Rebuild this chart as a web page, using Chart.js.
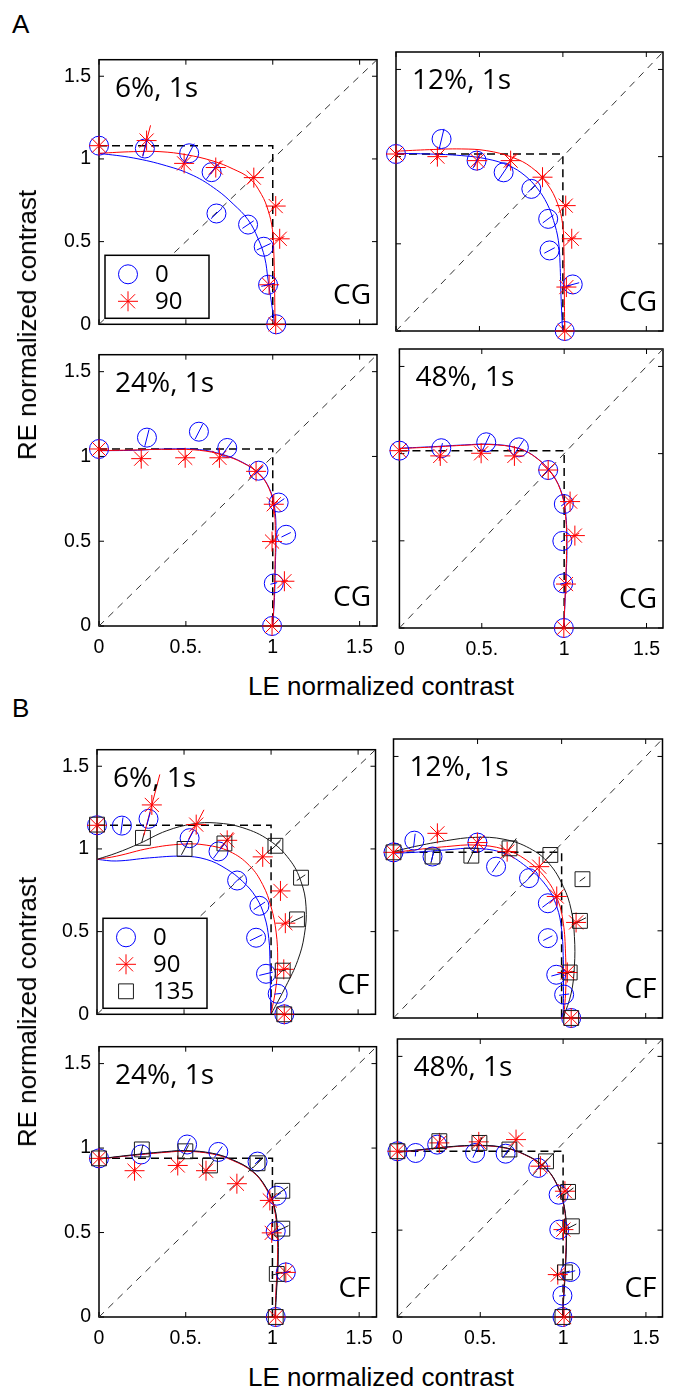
<!DOCTYPE html>
<html>
<head>
<meta charset="utf-8">
<script src="https://cdn.jsdelivr.net/npm/chart.js@4.4.1/dist/chart.umd.min.js"></script>
<style>
  body { margin: 0; background: #fff; width: 674px; height: 1391px; position: relative; overflow: hidden; }
  canvas { position: absolute; }
  .lbl { position: absolute; color: #000; white-space: nowrap; line-height: 1; font-family: "Liberation Sans", Arial, sans-serif; }
</style>
</head>
<body>
<script>
// axis ticks
const tickValues = [0, 0.5, 1, 1.5];
const xTickLabels = ['0', '0.5.', '1', '1.5'];
const yTickLabels = ['0', '0.5', '1', '1.5'];
const diagonal = [0, 1.6];

// ---- A, CG, 6% ----  points are [LE, RE]
const A1_0 = [[0,1.08],[0.264,1.063],[0.519,1.034],[0.648,0.92],[0.676,0.67],[0.858,0.603],[0.948,0.469],[0.973,0.239],[1.02,0]];
const A1_err0 = [0,0.05,0.065,0.055,0.045,0.04,0.045,0.04,0];
const A1_90 = [[0,1.08],[0.274,1.111],[0.49,0.973],[0.672,0.948],[0.891,0.887],[1.017,0.715],[1.04,0.517],[0.979,0.239],[1.017,0]];
const A1_err90 = [0,0.095,0.04,0.05,0.05,0.03,0.03,0.03,0];
const A1_fit0 = [[0,1.034],[0.197,1.006],[0.389,0.958],[0.542,0.9],[0.676,0.814],[0.772,0.728],[0.858,0.632],[0.916,0.517],[0.954,0.402],[0.973,0.268],[0.992,0.134],[1.011,0]];
const A1_fit90 = [[0,1.034],[0.197,1.044],[0.351,1.044],[0.504,1.025],[0.657,0.987],[0.772,0.939],[0.868,0.881],[0.935,0.785],[0.973,0.69],[0.998,0.575],[1.006,0.441],[1.01,0.268],[1.013,0]];
const A1_box = [1.0, 1.08];

// ---- A, CG, 12% ----
const A2_0 = [[0,1.015],[0.273,1.101],[0.483,0.977],[0.645,0.91],[0.811,0.815],[0.912,0.643],[0.92,0.462],[1.059,0.267],[1.011,0]];
const A2_err0 = [0,0.06,0.05,0.06,0.03,0.04,0.035,0.04,0];
const A2_90 = [[0,1.015],[0.248,1.0],[0.487,0.977],[0.687,0.977],[0.878,0.882],[1.017,0.719],[1.053,0.529],[1.021,0.252],[1.011,0]];
const A2_err90 = [0,0.02,0.04,0.05,0.03,0.03,0.03,0.03,0];
const A2_fit0 = [[0,1.019],[0.2,1.015],[0.391,1.006],[0.544,0.987],[0.677,0.948],[0.773,0.891],[0.849,0.815],[0.906,0.729],[0.944,0.634],[0.973,0.519],[0.983,0.385],[0.989,0.195],[0.998,0]];
const A2_fit90 = [[0,1.031],[0.2,1.04],[0.391,1.044],[0.544,1.034],[0.697,0.996],[0.811,0.939],[0.906,0.844],[0.969,0.729],[0.998,0.615],[1.006,0.481],[1.008,0.29],[1.011,0]];
const A2_box = [1.0, 1.015];

// ---- A, CG, 24% ----
const A3_0 = [[0,1.044],[0.276,1.111],[0.575,1.146],[0.738,1.05],[0.918,0.916],[1.034,0.728],[1.077,0.538],[1.006,0.251],[0.996,0]];
const A3_err0 = [0,0.05,0.05,0.05,0.04,0.04,0.03,0.02,0];
const A3_90 = [[0,1.044],[0.243,0.987],[0.496,0.992],[0.693,0.992],[0.904,0.912],[1.006,0.718],[0.996,0.498],[1.067,0.264],[0.996,0]];
const A3_err90 = [0,0.02,0.02,0.03,0.05,0.03,0.02,0.02,0];
const A3_fit0 = [[0,1.034],[0.195,1.036],[0.387,1.044],[0.579,1.04],[0.713,1.011],[0.828,0.964],[0.923,0.897],[0.981,0.81],[1.01,0.705],[1.019,0.552],[1.015,0.36],[1.01,0.169],[1.0,0]];
const A3_fit90 = [[0,1.034],[0.195,1.038],[0.387,1.042],[0.579,1.036],[0.713,1.008],[0.828,0.962],[0.923,0.895],[0.979,0.81],[1.006,0.705],[1.015,0.552],[1.013,0.36],[1.008,0.169],[1.0,0]];
const A3_box = [1.0, 1.044];

// ---- A, CG, 48% ----
const A4_0 = [[0,1.017],[0.254,1.031],[0.527,1.065],[0.725,1.036],[0.903,0.906],[0.998,0.711],[0.989,0.499],[0.994,0.256],[0.998,0]];
const A4_err0 = [0,0.03,0.05,0.05,0.03,0.02,0.01,0.02,0];
const A4_90 = [[0,1.017],[0.248,0.987],[0.496,1.002],[0.698,0.987],[0.903,0.906],[1.036,0.725],[1.065,0.53],[1.011,0.252],[0.998,0]];
const A4_err90 = [0,0.03,0.03,0.03,0.04,0.03,0.03,0.03,0];
const A4_fit0 = [[0,1.031],[0.206,1.04],[0.397,1.05],[0.55,1.054],[0.721,1.031],[0.836,0.973],[0.931,0.878],[0.989,0.763],[1.011,0.639],[1.017,0.467],[1.011,0.275],[0.998,0]];
const A4_fit90 = [[0,1.029],[0.206,1.038],[0.397,1.048],[0.55,1.052],[0.721,1.03],[0.836,0.972],[0.931,0.877],[0.987,0.763],[1.009,0.639],[1.015,0.467],[1.009,0.275],[0.998,0]];
const A4_box = [1.0, 1.017];

// ---- B, CF, 6% ----
const B1_0 = [[0,1.143],[0.143,1.141],[0.296,1.182],[0.532,1.065],[0.698,0.985],[0.805,0.809],[0.933,0.656],[0.914,0.463],[0.971,0.245],[1.038,0.124],[1.076,0]];
const B1_err0 = [0,0.05,0.04,0.05,0.05,0.03,0.04,0.04,0.04,0.02,0];
const B1_90 = [[0,1.143],[0.315,1.266],[0.57,1.147],[0.748,1.052],[0.952,0.952],[1.054,0.746],[1.082,0.551],[1.073,0.272],[1.076,0]];
const B1_err90 = [0,0.19,0.1,0.06,0.02,0.02,0.03,0.03,0];
const B1_135 = [[0,1.147],[0.264,1.067],[0.503,1.0],[0.732,1.033],[1.025,1.019],[1.172,0.826],[1.149,0.574],[1.067,0.264],[1.076,0]];
const B1_err135 = [0,0.03,0.04,0.04,0.04,0.03,0.04,0.02,0];
const B1_fit0 = [[0,0.937],[0.111,0.927],[0.302,0.946],[0.493,0.956],[0.627,0.937],[0.742,0.88],[0.837,0.803],[0.914,0.707],[0.962,0.593],[0.987,0.459],[0.994,0.306],[0.996,0.172],[1.0,0]];
const B1_fit90 = [[0,0.937],[0.111,0.956],[0.302,1.004],[0.493,1.029],[0.627,1.023],[0.761,0.985],[0.876,0.899],[0.952,0.784],[1.0,0.65],[1.029,0.497],[1.038,0.325],[1.029,0.172],[1.0,0]];
const B1_fit135 = [[0,0.937],[0.111,0.975],[0.245,1.033],[0.398,1.109],[0.551,1.151],[0.685,1.157],[0.838,1.128],[0.99,1.052],[1.105,0.937],[1.172,0.803],[1.201,0.65],[1.191,0.478],[1.153,0.325],[1.086,0.172],[1.0,0]];
const B1_box = [1.0, 1.143];

// ---- B, CF, 12% ----
const B2_0 = [[0,0.95],[0.124,1.017],[0.232,0.926],[0.499,1.006],[0.61,0.868],[0.806,0.802],[0.918,0.658],[0.918,0.458],[0.968,0.248],[1.015,0.134],[1.057,0]];
const B2_err0 = [0,0.04,0.03,0.04,0.04,0.04,0.04,0.03,0.03,0.03,0];
const B2_90 = [[0,0.95],[0.261,1.059],[0.499,1.006],[0.676,0.954],[0.867,0.868],[0.971,0.697],[1.086,0.548],[1.034,0.261],[1.057,0]];
const B2_err90 = [0,0.02,0.03,0.03,0.04,0.03,0.03,0.03,0];
const B2_135 = [[0,0.95],[0.232,0.926],[0.463,0.931],[0.69,0.973],[0.933,0.935],[1.124,0.796],[1.109,0.557],[1.048,0.261],[1.057,0]];
const B2_err135 = [0,0.04,0.05,0.07,0.04,0.02,0.04,0.03,0];
const B2_fit0 = [[0,0.945],[0.124,0.95],[0.314,0.964],[0.486,0.973],[0.657,0.945],[0.79,0.868],[0.905,0.763],[0.971,0.639],[1.0,0.506],[1.01,0.334],[1.011,0.181],[1.01,0]];
const B2_fit90 = [[0,0.948],[0.124,0.964],[0.314,0.983],[0.486,0.992],[0.657,0.968],[0.79,0.906],[0.905,0.802],[0.977,0.677],[1.01,0.544],[1.023,0.372],[1.025,0.181],[1.013,0]];
const B2_fit135 = [[0,0.954],[0.124,0.983],[0.314,1.017],[0.486,1.036],[0.657,1.025],[0.81,0.973],[0.924,0.887],[1.01,0.754],[1.057,0.62],[1.076,0.468],[1.076,0.296],[1.057,0.143],[1.01,0]];
const B2_box = [1.0, 0.95];

// ---- B, CF, 24% ----
const B3_0 = [[0,0.939],[0.243,0.962],[0.508,1.021],[0.688,0.977],[0.914,0.92],[1.025,0.718],[1.019,0.508],[1.077,0.264],[1.019,0]];
const B3_err0 = [0,0.02,0.04,0.04,0.02,0.03,0.03,0.02,0];
const B3_90 = [[0,0.939],[0.205,0.866],[0.454,0.897],[0.617,0.866],[0.795,0.789],[0.985,0.69],[0.996,0.498],[1.077,0.264],[1.019,0]];
const B3_err90 = [0,0.02,0.03,0.03,0.03,0.03,0.03,0.03,0];
const B3_135 = [[0,0.939],[0.247,0.992],[0.498,0.981],[0.64,0.897],[0.914,0.91],[1.057,0.747],[1.057,0.523],[1.025,0.255],[1.019,0]];
const B3_err135 = [0,0.03,0.04,0.04,0.04,0.04,0.04,0.03,0];
const B3_fit0 = [[0,0.935],[0.195,0.958],[0.387,0.977],[0.502,0.983],[0.655,0.967],[0.77,0.929],[0.885,0.862],[0.962,0.766],[1.01,0.651],[1.029,0.498],[1.031,0.326],[1.023,0.172],[1.015,0]];
const B3_fit90 = [[0,0.935],[0.195,0.957],[0.387,0.975],[0.502,0.981],[0.655,0.965],[0.77,0.927],[0.885,0.86],[0.96,0.766],[1.008,0.651],[1.027,0.498],[1.029,0.326],[1.021,0.172],[1.015,0]];
const B3_fit135 = [[0,0.936],[0.195,0.96],[0.387,0.979],[0.502,0.985],[0.655,0.969],[0.77,0.931],[0.885,0.864],[0.964,0.766],[1.012,0.651],[1.031,0.498],[1.033,0.326],[1.025,0.172],[1.015,0]];
const B3_box = [1.0, 0.939];

// ---- B, CF, 48% ----
const B4_0 = [[0,0.954],[0.11,0.944],[0.24,0.992],[0.469,0.944],[0.653,0.94],[0.85,0.858],[0.973,0.704],[0.977,0.503],[1.044,0.259],[0.996,0.123],[0.996,0]];
const B4_err0 = [0,0.02,0.02,0.03,0.03,0.02,0.02,0.02,0.03,0.02,0];
const B4_90 = [[0,0.954],[0.253,1.002],[0.491,1.008],[0.716,1.021],[0.863,0.868],[1.011,0.724],[1.002,0.503],[0.968,0.244],[1.006,0]];
const B4_err90 = [0,0.03,0.03,0.03,0.03,0.03,0.03,0.03,0];
const B4_135 = [[0,0.954],[0.253,1.012],[0.495,1.002],[0.676,0.964],[0.897,0.896],[1.03,0.72],[1.053,0.522],[1.011,0.257],[0.996,0]];
const B4_err135 = [0,0.04,0.04,0.04,0.04,0.04,0.03,0.03,0];
const B4_fit0 = [[0,0.948],[0.158,0.964],[0.31,0.979],[0.501,0.987],[0.653,0.973],[0.768,0.935],[0.882,0.868],[0.958,0.772],[1.006,0.637],[1.019,0.484],[1.015,0.311],[1.006,0.157],[0.996,0]];
const B4_fit90 = [[0,0.948],[0.158,0.963],[0.31,0.978],[0.501,0.986],[0.653,0.972],[0.768,0.934],[0.882,0.867],[0.958,0.771],[1.005,0.637],[1.018,0.484],[1.014,0.311],[1.005,0.157],[0.996,0]];
const B4_fit135 = [[0,0.949],[0.158,0.965],[0.31,0.98],[0.501,0.988],[0.653,0.974],[0.768,0.936],[0.882,0.869],[0.959,0.772],[1.007,0.637],[1.02,0.484],[1.016,0.311],[1.007,0.157],[0.996,0]];
const B4_box = [1.0, 0.954];

// marker / colour per orientation
const BLUE = '#0000ff', RED = '#ff0000', BLK = '#1a1a1a';
function s0(pts, err) { return { name: '0', pts, err, style: 'circle', r: 9.5, color: BLUE }; }
function s90(pts, err) { return { name: '90', pts, err, style: 'star', r: 10, color: RED }; }
function s135(pts, err) { return { name: '135', pts, err, style: 'rect', r: 10.5, color: BLK }; }

const panels = [
  { left: 99, top: 52, w: 279, h: 278, title: '6%, 1s', tag: 'CG', showY: true, showX: false, legend: true,
    series: [s90(A1_90, A1_err90), s0(A1_0, A1_err0)], fits: [[A1_fit90, RED], [A1_fit0, BLUE]], box: A1_box },
  { left: 395, top: 52, w: 278, h: 279, title: '12%, 1s', tag: 'CG', showY: false, showX: false,
    series: [s90(A2_90, A2_err90), s0(A2_0, A2_err0)], fits: [[A2_fit90, RED], [A2_fit0, BLUE]], box: A2_box },
  { left: 99, top: 347, w: 279, h: 279, title: '24%, 1s', tag: 'CG', showY: true, showX: true,
    series: [s90(A3_90, A3_err90), s0(A3_0, A3_err0)], fits: [[A3_fit90, RED], [A3_fit0, BLUE]], box: A3_box },
  { left: 394, top: 349, w: 279, h: 279, title: '48%, 1s', tag: 'CG', showY: false, showX: true,
    series: [s90(A4_90, A4_err90), s0(A4_0, A4_err0)], fits: [[A4_fit90, RED], [A4_fit0, BLUE]], box: A4_box },
  { left: 97, top: 742, w: 280, h: 278, title: '6%, 1s', tag: 'CF', showY: true, showX: false, legend: true,
    series: [s135(B1_135, B1_err135), s90(B1_90, B1_err90), s0(B1_0, B1_err0)], fits: [[B1_fit135, BLK], [B1_fit90, RED], [B1_fit0, BLUE]], box: B1_box },
  { left: 392, top: 739, w: 279, h: 279, title: '12%, 1s', tag: 'CF', showY: false, showX: false,
    series: [s135(B2_135, B2_err135), s90(B2_90, B2_err90), s0(B2_0, B2_err0)], fits: [[B2_fit135, BLK], [B2_fit90, RED], [B2_fit0, BLUE]], box: B2_box },
  { left: 99, top: 1039, w: 279, h: 278, title: '24%, 1s', tag: 'CF', showY: true, showX: true,
    series: [s135(B3_135, B3_err135), s90(B3_90, B3_err90), s0(B3_0, B3_err0)], fits: [[B3_fit135, BLK], [B3_fit90, RED], [B3_fit0, BLUE]], box: B3_box },
  { left: 392, top: 1039, w: 280, h: 278, title: '48%, 1s', tag: 'CF', showY: false, showX: true,
    series: [s135(B4_135, B4_err135), s90(B4_90, B4_err90), s0(B4_0, B4_err0)], fits: [[B4_fit135, BLK], [B4_fit90, RED], [B4_fit0, BLUE]], box: B4_box }
];

function toPts(arr) { return arr.map(p => ({ x: p[0], y: p[1] })); }

function drawMarker(ctx, style, r, color, x, y) {
  ctx.save();
  ctx.strokeStyle = color; ctx.lineWidth = 1;
  ctx.beginPath();
  if (style === 'circle') {
    ctx.arc(x, y, r, 0, Math.PI * 2);
  } else if (style === 'rect') {
    const h = r * Math.SQRT1_2;
    ctx.rect(x - h, y - h, 2 * h, 2 * h);
  } else {
    for (let k = 0; k < 4; k++) {
      const a = k * Math.PI / 4;
      ctx.moveTo(x - r * Math.cos(a), y - r * Math.sin(a));
      ctx.lineTo(x + r * Math.cos(a), y + r * Math.sin(a));
    }
  }
  ctx.stroke();
  ctx.restore();
}

const decor = {
  id: 'decor',
  beforeDatasetsDraw(chart, args, opts) {
    const { ctx, chartArea: a, scales: { x, y } } = chart;
    ctx.save();
    ctx.strokeStyle = '#000';
    ctx.lineWidth = 1.5;
    ctx.strokeRect(a.left, a.top, a.right - a.left, a.bottom - a.top);
    ctx.lineWidth = 1;
    ctx.beginPath();
    tickValues.forEach(v => {
      const px = x.getPixelForValue(v), py = y.getPixelForValue(v);
      ctx.moveTo(px, a.bottom); ctx.lineTo(px, a.bottom - 5);
      ctx.moveTo(px, a.top); ctx.lineTo(px, a.top + 5);
      ctx.moveTo(a.left, py); ctx.lineTo(a.left + 5, py);
      ctx.moveTo(a.right, py); ctx.lineTo(a.right - 5, py);
    });
    ctx.stroke();
    ctx.restore();
  },
  afterDatasetsDraw(chart) {
    // radial error bars through each marker
    const { ctx, scales: { x, y } } = chart;
    ctx.save();
    ctx.lineWidth = 1;
    chart.data.datasets.forEach(ds => {
      if (!ds.errors) return;
      ctx.strokeStyle = ds.borderColor;
      ctx.beginPath();
      ds.data.forEach((p, i) => {
        const e = ds.errors[i];
        const r = Math.hypot(p.x, p.y);
        if (!e || !r) return;
        const ux = p.x / r, uy = p.y / r;
        ctx.moveTo(x.getPixelForValue(p.x - e * ux), y.getPixelForValue(p.y - e * uy));
        ctx.lineTo(x.getPixelForValue(p.x + e * ux), y.getPixelForValue(p.y + e * uy));
      });
      ctx.stroke();
    });
    ctx.restore();
  },
  afterDraw(chart, args, opts) {
    const { ctx, chartArea: a } = chart;
    ctx.save();
    ctx.fillStyle = '#000';
    ctx.font = '28px "Open Sans"';
    ctx.textBaseline = 'alphabetic';
    ctx.textAlign = 'left';
    ctx.fillText(opts.title, a.left + 16, a.top + 37);
    ctx.textAlign = 'right';
    ctx.fillText(opts.tag, a.right - 6, a.bottom - 20);
    if (opts.legend) {
      const items = chart.data.datasets.filter(d => d.errors).slice().reverse();
      const bw = 104, bh = 36 + (items.length - 1) * 27;
      const bx = a.left + 6, by = a.bottom - 6 - bh;
      ctx.fillStyle = '#fff';
      ctx.fillRect(bx, by, bw, bh);
      ctx.strokeStyle = '#000';
      ctx.lineWidth = 1.5;
      ctx.strokeRect(bx, by, bw, bh);
      ctx.font = '24px "Open Sans"';
      ctx.textAlign = 'left';
      ctx.textBaseline = 'middle';
      ctx.fillStyle = '#000';
      items.forEach((d, i) => {
        const cy = by + 19 + i * 27;
        drawMarker(ctx, d.pointStyle, d.pointRadius, d.borderColor, bx + 23, cy);
        ctx.fillText(d.label, bx + 50, cy + 1);
      });
    }
    ctx.restore();
  }
};

panels.forEach(p => {
  const padL = p.showY ? 62 : 10;
  const padR = Math.min(10, 674 - (p.left + p.w));
  const padT = 12;
  const padB = p.showX ? 42 : 14;
  const cv = document.createElement('canvas');
  cv.width = padL + p.w + padR;
  cv.height = padT + p.h + padB;
  cv.style.left = (p.left - padL) + 'px';
  cv.style.top = (p.top - padT) + 'px';
  document.body.appendChild(cv);

  const datasets = [];
  p.series.forEach(s => datasets.push({
    label: s.name, data: toPts(s.pts), errors: s.err,
    pointStyle: s.style, pointRadius: s.r, pointHoverRadius: s.r,
    borderColor: s.color, pointBorderColor: s.color, pointBackgroundColor: 'rgba(0,0,0,0)',
    pointBorderWidth: 1, showLine: false, clip: false
  }));
  p.fits.forEach(f => datasets.push({
    label: 'fit', data: toPts(f[0]), showLine: true, borderColor: f[1], borderWidth: 1,
    pointRadius: 0, tension: 0.4, fill: false
  }));
  datasets.push({
    label: 'mono', data: [{ x: 0, y: p.box[1] }, { x: p.box[0], y: p.box[1] }, { x: p.box[0], y: 0 }],
    showLine: true, borderColor: '#000', borderWidth: 1.5, borderDash: [8, 5], pointRadius: 0, tension: 0
  });
  datasets.push({
    label: 'diag', data: diagonal.map(v => ({ x: v, y: v })),
    showLine: true, borderColor: '#333', borderWidth: 1, borderDash: [7, 6], pointRadius: 0
  });

  new Chart(cv, {
    type: 'scatter',
    data: { datasets },
    plugins: [decor],
    options: {
      responsive: false,
      animation: false,
      events: [],
      layout: { padding: { left: 0, right: padR, top: padT, bottom: 0 } },
      plugins: {
        legend: { display: false },
        tooltip: { enabled: false },
        decor: { title: p.title, tag: p.tag, legend: !!p.legend }
      },
      scales: {
        x: {
          type: 'linear', min: 0, max: 1.6,
          afterBuildTicks: s => { s.ticks = tickValues.map(v => ({ value: v })); },
          afterFit: s => { s.height = padB; },
          grid: { display: false, drawTicks: false }, border: { display: false },
          ticks: { display: p.showX, callback: (v, i) => xTickLabels[i], color: '#000', padding: 10,
                   maxRotation: 0, autoSkip: false, font: { family: 'Liberation Sans', size: 19.5 } }
        },
        y: {
          type: 'linear', min: 0, max: 1.6,
          afterBuildTicks: s => { s.ticks = tickValues.map(v => ({ value: v })); },
          afterFit: s => { s.width = padL; },
          grid: { display: false, drawTicks: false }, border: { display: false },
          ticks: { display: p.showY, callback: (v, i) => yTickLabels[i], color: '#000', padding: 8,
                   autoSkip: false, font: { family: 'Liberation Sans', size: 19.5 } }
        }
      }
    }
  });
});

// page labels
function addLabel(text, x, baseline, size, align, rotate) {
  const d = document.createElement('div');
  d.className = 'lbl';
  d.textContent = text;
  d.style.fontSize = size + 'px';
  document.body.appendChild(d);
  if (rotate) {
    d.style.left = x + 'px';
    d.style.top = baseline + 'px';
    d.style.transform = 'translate(-50%, -50%) rotate(-90deg)';
    return;
  }
  const w = d.offsetWidth;
  d.style.left = (align === 'center' ? x - w / 2 : x) + 'px';
  d.style.top = (baseline - 0.8465 * size) + 'px';
}
addLabel('A', 12, 33, 26, 'left');
addLabel('B', 12, 717, 26, 'left');
addLabel('LE normalized contrast', 381, 695, 26, 'center');
addLabel('LE normalized contrast', 381, 1386, 26, 'center');
addLabel('RE normalized contrast', 27, 325, 26, null, true);
addLabel('RE normalized contrast', 27, 1012, 26, null, true);
</script>
</body>
</html>
